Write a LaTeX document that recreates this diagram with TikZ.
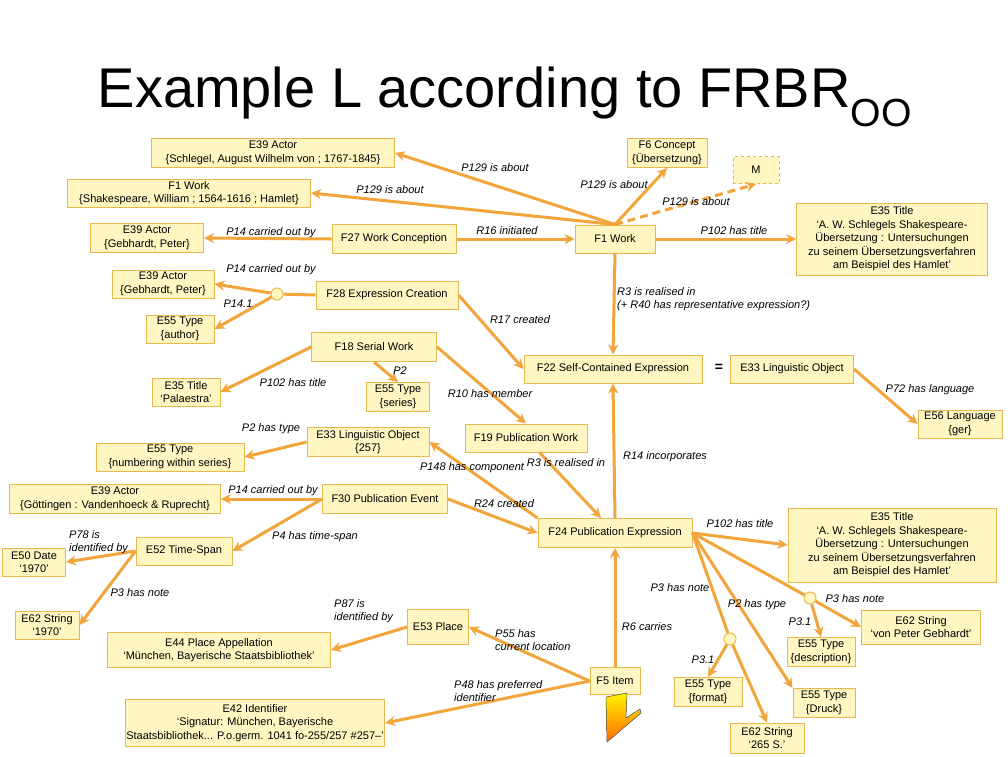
\documentclass[tikz,border=0pt]{standalone}
\usepackage{fontspec}
\setmainfont{Liberation Sans}
\usetikzlibrary{arrows.meta}
\definecolor{bfill}{HTML}{FFF6C2}
\definecolor{bdraw}{HTML}{E9B94F}
\definecolor{lcol}{HTML}{F2A53A}
\begin{document}
\begin{tikzpicture}[x=1pt,y=-1pt,
  box/.style={draw=bdraw,fill=bfill,line width=1pt,align=center,inner sep=1pt,font=\fontsize{11}{13.5}\selectfont},
  lab/.style={font=\fontsize{11}{13.5}\selectfont\itshape,inner sep=0pt,align=left},
  rel/.style={draw=lcol,line width=3pt,-{Stealth[length=10pt,width=10pt]}},
  pl/.style={draw=lcol,line width=3pt},
  circ/.style={circle,draw=bdraw,fill=bfill,line width=1pt,minimum size=12pt,inner sep=0pt}]
\useasboundingbox (0,0) rectangle (1008,756);
\fill[white] (0,0) rectangle (1008,756);
\node[inner sep=0pt,font=\fontsize{56}{62}\selectfont] (title) at (505,97) {Example L according to FRBR$_{\mathrm{\fontspec{Liberation Sans}OO}}$};

\node[box,minimum width=243pt,minimum height=29pt] (a1) at (273,153) {E39 Actor\\\{Schlegel, August Wilhelm von ; 1767-1845\}};
\node[box,minimum width=243pt,minimum height=28pt] (w1) at (189,193) {F1 Work\\\{Shakespeare, William ; 1564-1616 ; Hamlet\}};
\node[box,minimum width=113pt,minimum height=29pt] (a2) at (147,238) {E39 Actor\\\{Gebhardt, Peter\}};
\node[box,minimum width=124pt,minimum height=29pt] (f27) at (394,239) {F27 Work Conception};
\node[box,minimum width=102pt,minimum height=28pt] (a3) at (163,284) {E39 Actor\\\{Gebhardt, Peter\}};
\node[circ] (c1) at (277,294) {};
\node[box,minimum width=68pt,minimum height=28pt] (t1) at (180,329) {E55 Type\\\{author\}};
\node[box,minimum width=142pt,minimum height=28pt] (f28) at (387,295) {F28 Expression Creation};
\node[box,minimum width=125pt,minimum height=29pt] (f18) at (374,347) {F18 Serial Work};
\node[box,minimum width=68pt,minimum height=28pt] (ti1) at (186,392) {E35 Title\\`Palaestra'};
\node[box,minimum width=63pt,minimum height=29pt] (t2) at (398,397) {E55 Type\\\{series\}};
\node[box,minimum width=80pt,minimum height=29pt] (f6) at (667,153) {F6 Concept\\\{Übersetzung\}};
\node[box,dashed,minimum width=46pt,minimum height=27pt] (M) at (756,170) {M};
\node[box,minimum width=80pt,minimum height=28pt] (f1) at (615,239) {F1 Work};
\node[box,minimum width=191pt,minimum height=72pt] (ti2) at (892,239) {E35 Title\\`A. W. Schlegels Shakespeare-\\Übersetzung : Untersuchungen\\zu seinem Übersetzungsverfahren\\am Beispiel des Hamlet'};
\node[box,minimum width=178pt,minimum height=28pt] (f22) at (613,369) {F22 Self-Contained Expression};
\node[inner sep=0pt,font=\fontsize{14}{14}\selectfont\bfseries] (eq) at (719,368) {=};
\node[box,minimum width=123pt,minimum height=28pt] (e33a) at (792,369) {E33 Linguistic Object};
\node[box,minimum width=84pt,minimum height=28pt] (lang) at (960,424) {E56 Language\\\{ger\}};
\node[box,minimum width=122pt,minimum height=28pt] (f19) at (526,438) {F19 Publication Work};
\node[box,minimum width=122pt,minimum height=29pt] (e33b) at (368,442) {E33 Linguistic Object\\\{257\}};
\node[box,minimum width=148pt,minimum height=28pt] (t3) at (170,457) {E55 Type\\\{numbering within series\}};
\node[box,minimum width=211pt,minimum height=29pt] (a4) at (115,499) {E39 Actor\\\{Göttingen : Vandenhoeck \& Ruprecht\}};
\node[box,minimum width=125pt,minimum height=29pt] (f30) at (385,499) {F30 Publication Event};
\node[box,minimum width=154pt,minimum height=29pt] (f24) at (615,533) {F24 Publication Expression};
\node[box,minimum width=208pt,minimum height=74pt] (ti3) at (892,545) {E35 Title\\`A. W. Schlegels Shakespeare-\\Übersetzung : Untersuchungen\\zu seinem Übersetzungsverfahren\\am Beispiel des Hamlet'};
\node[box,minimum width=96pt,minimum height=28pt] (ts) at (184,551) {E52 Time-Span};
\node[box,minimum width=63pt,minimum height=28pt] (d) at (34,562) {E50 Date\\`1970'};
\node[box,minimum width=64pt,minimum height=28pt] (s1) at (47,625) {E62 String\\`1970'};
\node[box,minimum width=223pt,minimum height=35pt] (pa) at (219,650) {E44 Place Appellation\\`München, Bayerische Staatsbibliothek'};
\node[box,minimum width=61pt,minimum height=35pt] (pl) at (438,627) {E53 Place};
\node[box,minimum width=50pt,minimum height=27pt] (f5) at (615,681) {F5 Item};
\node[box,minimum width=238pt,minimum height=47pt] (id) at (255,723) {E42 Identifier\\`Signatur: München, Bayerische\\Staatsbibliothek... P.o.germ. 1041 fo-255/257 \#257--'};
\node[circ] (c2) at (730,639) {};
\node[circ] (c3) at (810,598) {};
\node[box,minimum width=68pt,minimum height=29pt] (t4) at (708,692) {E55 Type\\\{format\}};
\node[box,minimum width=74pt,minimum height=30pt] (s2) at (767,738) {E62 String\\`265 S.'};
\node[box,minimum width=62pt,minimum height=29pt] (t5) at (824,703) {E55 Type\\\{Druck\}};
\node[box,minimum width=68pt,minimum height=29pt] (t6) at (821,652) {E55 Type\\\{description\}};
\node[box,minimum width=119pt,minimum height=34pt] (s3) at (921,627) {E62 String\\`von Peter Gebhardt'};

\shade[top color=yellow!90!orange,bottom color=orange!85!red,draw=black!70,line width=0.5pt]
  (606,697) -- (627,693) -- (626,718) -- (640,709) -- (641,713) -- (607,742) -- cycle;

% connectors
\draw[rel] (f1.north) -- (a1.east);
\draw[rel] (f1.north) -- (w1.east);
\draw[rel] (f1.north) -- (f6.south);
\draw[rel,dash pattern=on 8pt off 5pt] (f1.north) -- (M.south);
\draw[rel] (f27.west) -- (a2.east);
\draw[rel] (f27.east) -- (f1.west);
\draw[rel] (f1.east) -- (ti2.west);
\draw[rel] (f1.south) -- (f22.north);
\draw[pl] (f28.west) -- (c1);
\draw[rel] (c1) -- (a3.east);
\draw[rel] (c1) -- (t1.east);
\draw[rel] (f28.east) -- (f22.west);
\draw[rel] (f18.west) -- (ti1.east);
\draw[rel] (f18.south) -- (t2.north);
\draw[rel] (f18.east) -- (f19.north);
\draw[rel] (f24.north) -- (f22.south);
\draw[rel] (e33a.east) -- (lang.west);
\draw[rel] (f19) -- (f24);
\draw[rel] (f24.north west) -- (e33b.east);
\draw[rel] (e33b.west) -- (t3.east);
\draw[rel] (f30.west) -- (a4.east);
\draw[rel] (f30.east) -- (f24.west);
\draw[rel] (f30.west) -- (ts.east);
\draw[rel] (ts.west) -- (d.east);
\draw[rel] (ts.west) -- (s1.east);
\draw[rel] (f24.east) -- (ti3.west);
\draw[pl] (f24.east) -- (c3);
\draw[rel] (c3) -- (s3.west);
\draw[rel] (c3) -- (t6.north);
\draw[rel] (f24.east) -- (t5.north west);
\draw[pl] (f24.east) -- (c2);
\draw[rel] (c2) -- (s2.north);
\draw[rel] (c2) -- (t4.north);
\draw[rel] (f5.north) -- (f24.south);
\draw[rel] (pl.west) -- (pa.east);
\draw[rel] (f5.west) -- (pl.east);
\draw[rel] (f5.west) -- (id.east);

% labels
\node[lab] (l1) at (495,168) {P129 is about};
\node[lab] (l2) at (390,190) {P129 is about};
\node[lab] (l3) at (614,185) {P129 is about};
\node[lab] (l4) at (696,202) {P129 is about};
\node[lab] (l5) at (271,233) {P14 carried out by};
\node[lab] (l6) at (507,231) {R16 initiated};
\node[lab] (l7) at (734,231) {P102 has title};
\node[lab,anchor=west] (l8) at (617,299) {R3 is realised in\\(+ R40 has representative expression?)};
\node[lab] (l9) at (271,270) {P14 carried out by};
\node[lab] (l10) at (238,304) {P14.1};
\node[lab] (l11) at (520,320) {R17 created};
\node[lab] (l12) at (293,383) {P102 has title};
\node[lab] (l13) at (400,371) {P2};
\node[lab] (l14) at (490,394) {R10 has member};
\node[lab] (l15) at (665,457) {R14 incorporates};
\node[lab] (l16) at (930,390) {P72 has language};
\node[lab] (l17) at (566,463) {R3 is realised in};
\node[lab] (l18) at (472,468) {P148 has component};
\node[lab] (l19) at (271,429) {P2 has type};
\node[lab] (l20) at (273,491) {P14 carried out by};
\node[lab] (l21) at (504,504) {R24 created};
\node[lab] (l22) at (315,537) {P4 has time-span};
\node[lab,anchor=west] (l23) at (69,542) {P78 is\\identified by};
\node[lab] (l24) at (140,593) {P3 has note};
\node[lab] (l25) at (740,524) {P102 has title};
\node[lab] (l26) at (855,599) {P3 has note};
\node[lab] (l27) at (800,622) {P3.1};
\node[lab] (l28) at (757,605) {P2 has type};
\node[lab] (l29) at (680,588) {P3 has note};
\node[lab] (l30) at (703,660) {P3.1};
\node[lab] (l31) at (647,627) {R6 carries};
\node[lab,anchor=west] (l32) at (334,611) {P87 is\\identified by};
\node[lab,anchor=west] (l33) at (495,640) {P55 has\\current location};
\node[lab,anchor=west] (l34) at (454,691) {P48 has preferred\\identifier};
\end{tikzpicture}
\end{document}
